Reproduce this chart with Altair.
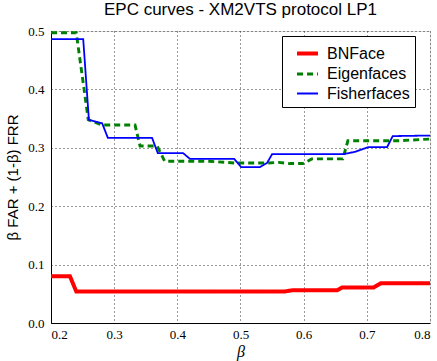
import altair as alt
import pandas as pd

series_names = ["BNFace", "Eigenfaces", "Fisherfaces"]
series_colors = ["#ff0000", "#008000", "#0000ff"]

bn_x = [0.2, 0.23, 0.24, 0.57, 0.582, 0.653, 0.661, 0.711, 0.722, 0.8]
bn_y = [0.080, 0.080, 0.054, 0.054, 0.056, 0.056, 0.061, 0.061, 0.068, 0.068]

eig_x = [0.2, 0.240, 0.259, 0.281, 0.333, 0.341, 0.368, 0.380, 0.45, 0.49,
         0.543, 0.56, 0.578, 0.599, 0.613, 0.662, 0.670, 0.748, 0.8]
eig_y = [0.497, 0.497, 0.348, 0.339, 0.339, 0.303, 0.303, 0.277, 0.277, 0.274,
         0.274, 0.275, 0.273, 0.273, 0.281, 0.281, 0.312, 0.312, 0.315]

fis_x = [0.2, 0.251, 0.260, 0.281, 0.290, 0.360, 0.369, 0.409, 0.420, 0.490,
         0.501, 0.531, 0.542, 0.550, 0.662, 0.681, 0.702, 0.732, 0.741, 0.8]
fis_y = [0.486, 0.486, 0.348, 0.342, 0.317, 0.317, 0.291, 0.291, 0.281, 0.281,
         0.267, 0.267, 0.274, 0.289, 0.289, 0.293, 0.301, 0.301, 0.320, 0.321]

x_ticks = [0.2, 0.3, 0.4, 0.5, 0.6, 0.7, 0.8]
y_ticks = [0.0, 0.1, 0.2, 0.3, 0.4, 0.5]

rows = []
for name, xs, ys in [("BNFace", bn_x, bn_y), ("Eigenfaces", eig_x, eig_y), ("Fisherfaces", fis_x, fis_y)]:
    for i, (a, b) in enumerate(zip(xs, ys)):
        rows.append({"series": name, "beta": a, "epc": b, "order": i})
df = pd.DataFrame(rows)

chart = alt.Chart(df).mark_line(clip=True).encode(
    x=alt.X("beta:Q", scale=alt.Scale(domain=[0.2, 0.8], nice=False, zero=False),
            axis=alt.Axis(values=x_ticks, format=".1f", title="β",
                          titleFont="Liberation Serif", titleFontStyle="italic",
                          titleFontWeight="normal", titleFontSize=16, titlePadding=2,
                          labelFont="Liberation Serif", labelFontSize=13, labelPadding=5,
                          ticks=False, domainColor="black", grid=True,
                          gridColor="black", gridDash=[1, 3], gridOpacity=0.8,
                          labelColor="black", titleColor="black")),
    y=alt.Y("epc:Q", scale=alt.Scale(domain=[0, 0.5], nice=False),
            axis=alt.Axis(values=y_ticks, format=".1f", title="β FAR + (1-β) FRR",
                          titleFont="Liberation Sans", titleFontWeight="normal",
                          titleFontSize=15, titlePadding=7,
                          labelFont="Liberation Serif", labelFontSize=13, labelPadding=7,
                          ticks=False, domainColor="black", grid=True,
                          gridColor="black", gridDash=[1, 3], gridOpacity=0.8,
                          labelColor="black", titleColor="black")),
    order="order:Q",
    color=alt.Color("series:N", scale=alt.Scale(domain=series_names, range=series_colors),
                    legend=alt.Legend(title=None, orient="none", legendX=231, legendY=5,
                                      symbolType="stroke", symbolSize=440,
                                      labelFont="Liberation Sans", labelFontSize=16,
                                      labelColor="black",
                                      labelExpr="datum.label + '\u2003'",
                                      fillColor="white", strokeColor="black",
                                      padding=5, rowPadding=0, labelOffset=7,
                                      symbolOffset=8, cornerRadius=0)),
    strokeDash=alt.StrokeDash("series:N", scale=alt.Scale(domain=series_names,
                              range=[[1, 0], [6, 4], [1, 0]]), legend=None),
    strokeWidth=alt.StrokeWidth("series:N", scale=alt.Scale(domain=series_names,
                                range=[4, 1.8, 1.8]), legend=None),
).properties(
    width=379, height=292,
    title=alt.TitleParams("EPC curves - XM2VTS protocol LP1", font="Liberation Sans",
                          fontSize=17, fontWeight="normal", color="black", offset=6),
    autosize=alt.AutoSizeParams(type="none"),
    padding={"left": 51, "top": 31, "right": 7, "bottom": 38},
).configure_view(stroke="black", strokeWidth=1.2).configure(background="white")

chart.save("out.html", embed_options={"renderer": "svg", "actions": False})
